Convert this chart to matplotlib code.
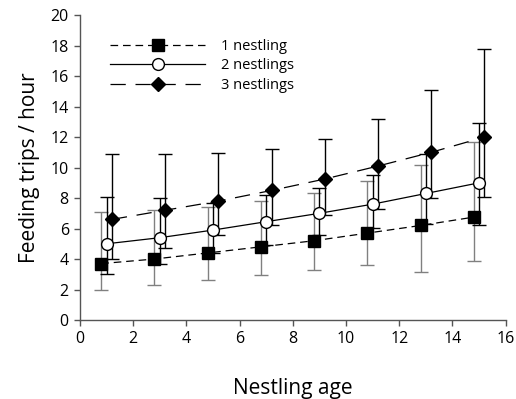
import numpy as np
import matplotlib
matplotlib.use("Agg")
import matplotlib.pyplot as plt

# ---------------- Data ----------------
age = np.array([1, 3, 5, 7, 9, 11, 13, 15])
offset = 0.2

one_mean = [3.7, 4.0, 4.4, 4.8, 5.2, 5.7, 6.2, 6.75]
one_hi   = [7.1, 7.2, 7.4, 7.8, 8.3, 9.1, 10.2, 11.7]
one_lo   = [2.0, 2.3, 2.6, 2.95, 3.3, 3.6, 3.15, 3.9]

two_mean = [5.0, 5.4, 5.9, 6.45, 7.0, 7.6, 8.3, 9.0]
two_hi   = [8.1, 8.0, 7.7, 8.2, 8.65, 9.5, 10.9, 12.9]
two_lo   = [3.05, 3.65, 4.4, 4.9, 5.6, 6.05, 6.3, 6.25]

three_mean = [6.6, 7.2, 7.8, 8.5, 9.25, 10.1, 11.0, 12.0]
three_hi   = [10.9, 10.9, 10.95, 11.25, 11.9, 13.2, 15.1, 17.8]
three_lo   = [4.0, 4.75, 5.55, 6.2, 6.9, 7.3, 8.0, 8.1]

labels = ["1 nestling", "2 nestlings", "3 nestlings"]

# ---------------- Style ----------------
plt.rcParams["font.family"] = ["Open Sans", "DejaVu Sans"]
plt.rcParams["lines.scale_dashes"] = False

fig = plt.figure(figsize=(5.16, 3.99), dpi=100)
ax = fig.add_axes([0.155, 0.198, 0.825, 0.764])

series = [
    (age - offset, one_mean, one_hi, one_lo, "s", "black", (0, (5.5, 3.5)), "#808080"),
    (age,          two_mean, two_hi, two_lo, "o", "white", "-",             "black"),
    (age + offset, three_mean, three_hi, three_lo, "D", "black", (0, (11, 7)), "black"),
]

for (x, m, hi, lo, mk, fc, ls, ecol), lab in zip(series, labels):
    m = np.array(m)
    yerr = [m - np.array(lo), np.array(hi) - m]
    ax.errorbar(x, m, yerr=yerr, fmt="none", ecolor=ecol, elinewidth=1,
                capsize=5, capthick=1, zorder=2)
    ax.plot(x, m, linestyle=ls, color="black", linewidth=0.9,
            marker=mk, markersize=8.5 if mk != "D" else 7.5,
            markerfacecolor=fc, markeredgecolor="black", markeredgewidth=1,
            label=lab, zorder=3)

# ---------------- Axes ----------------
ax.set_xlim(0, 16)
ax.set_ylim(0, 20)
ax.set_xticks(np.arange(0, 17, 2))
ax.set_yticks(np.arange(0, 21, 2))
ax.spines["top"].set_visible(False)
ax.spines["right"].set_visible(False)
for s in ["left", "bottom"]:
    ax.spines[s].set_color("#555555")
    ax.spines[s].set_linewidth(1)
ax.tick_params(direction="out", length=4, width=1, color="#555555",
               labelsize=11.5, pad=4)
ax.set_xlabel("Nestling age", fontsize=15, labelpad=22)
ax.set_ylabel("Feeding trips / hour", fontsize=15, labelpad=8)

ax.legend(loc="upper left", bbox_to_anchor=(0.04, 0.965), frameon=False,
          fontsize=10.5, handlelength=6.5, handletextpad=1.1,
          labelspacing=0.3, numpoints=1)

plt.savefig("out.png", dpi=100)
